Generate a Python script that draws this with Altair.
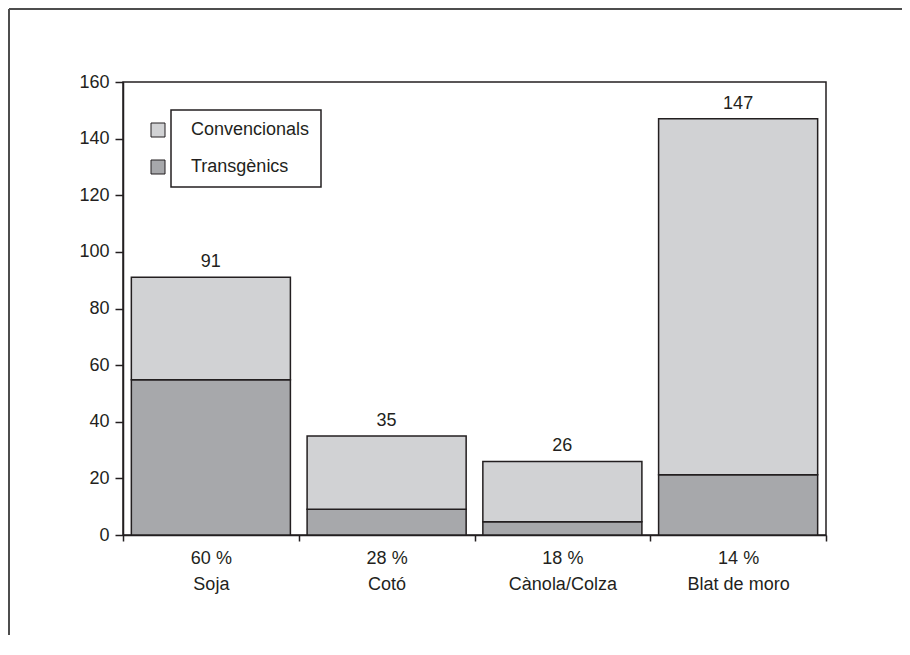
import altair as alt
import pandas as pd

crops = ["Soja", "Cotó", "Cànola/Colza", "Blat de moro"]
percents = ["60 %", "28 %", "18 %", "14 %"]
totals = [91, 35, 26, 147]
transgenics = [54.8, 9.1, 4.7, 21.3]
series = ["Convencionals", "Transgènics"]
colors = ["#d1d2d4", "#a7a8ab"]

labels = [f"{p}|{c}" for p, c in zip(percents, crops)]

rows = []
for lab, tot, tr in zip(labels, totals, transgenics):
    rows.append({"label": lab, "serie": "Transgènics", "value": tr, "ord": 0})
    rows.append({"label": lab, "serie": "Convencionals", "value": tot - tr, "ord": 1})
df = pd.DataFrame(rows)
tot_df = pd.DataFrame({"label": labels, "total": totals})

FONT = "Liberation Sans, Arial, Helvetica, sans-serif"
INK = "#231f20"

x_enc = alt.X(
    "label:N",
    sort=labels,
    scale=alt.Scale(paddingInner=0, paddingOuter=0),
    axis=alt.Axis(
        title=None,
        labelAngle=0,
        labelExpr="split(datum.label, '|')",
        labelLineHeight=26,
        labelPadding=8,
        tickSize=6,
        tickBand="extent",
    ),
)

bars = alt.Chart(df).mark_bar(stroke=INK, strokeWidth=1.5, width={"band": 0.905}).encode(
    x=x_enc,
    y=alt.Y(
        "value:Q",
        stack="zero",
        scale=alt.Scale(domain=[0, 160], nice=False),
        axis=alt.Axis(title=None, values=list(range(0, 161, 20)), tickSize=8, labelPadding=6, grid=False),
    ),
    color=alt.Color(
        "serie:N",
        scale=alt.Scale(domain=series, range=colors),
        legend=alt.Legend(
            title=None,
            orient="none",
            legendX=48,
            legendY=28,
            symbolType="square",
            symbolSize=196,
            symbolStrokeColor=INK,
            symbolStrokeWidth=1,
            symbolOffset={"expr": "-33"},
            labelOffset=24,
            rowPadding=19,
            padding=11,
            strokeColor=INK,
            fillColor="white",
        ),
    ),
    order=alt.Order("ord:Q", sort="ascending"),
)

text = alt.Chart(tot_df).mark_text(dy=-15, fontSize=18, font=FONT, color=INK).encode(
    x=alt.X("label:N", sort=labels),
    y=alt.Y("total:Q"),
    text=alt.Text("total:Q"),
)

frame_top = alt.Chart(tot_df).mark_rule(color="#4d4d4d", strokeWidth=2).encode(
    x=alt.value(-114), x2=alt.value(800), y=alt.value(-73)
)
frame_left = alt.Chart(tot_df).mark_rule(color="#4d4d4d", strokeWidth=2).encode(
    x=alt.value(-114), y=alt.value(-73), y2=alt.value(580)
)

chart = (
    alt.layer(bars, text, frame_top, frame_left)
    .properties(
        width=703,
        height=453,
        autosize=alt.AutoSizeParams(type="none"),
        padding={"left": 115, "top": 74, "right": 76, "bottom": 100},
    )
    .configure(font=FONT)
    .configure_view(stroke=INK, strokeWidth=1.5)
    .configure_axis(
        labelFont=FONT,
        labelFontSize=18,
        labelColor=INK,
        domainColor=INK,
        domainWidth=1.5,
        tickColor=INK,
        tickWidth=1.5,
    )
    .configure_legend(labelFont=FONT, labelFontSize=18, labelColor=INK, strokeWidth=1.5)
)

chart.save("out.html", embed_options={"renderer": "svg", "actions": False})
